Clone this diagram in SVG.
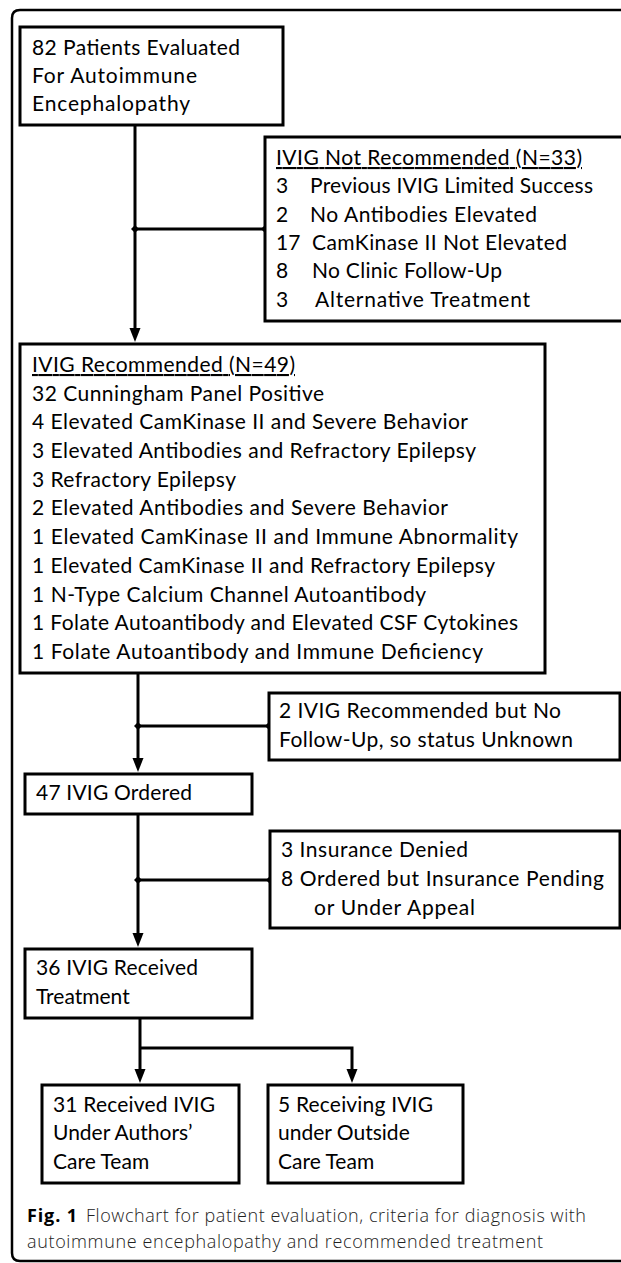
<svg xmlns="http://www.w3.org/2000/svg" width="621" height="1263" viewBox="0 0 621 1263">
<defs>
<style>
.box{fill:#fff;stroke:#000;stroke-width:3}
.t{font-family:Lato,"Liberation Sans",sans-serif;font-size:21px;fill:#000}
.u{text-decoration:underline}
.ln{fill:none;stroke:#000;stroke-width:3}
.cap{font-family:"Open Sans","Liberation Sans",sans-serif;font-size:18px;fill:#222;font-weight:300}
.capb{font-family:"Open Sans","Liberation Sans",sans-serif;font-size:18px;fill:#000;font-weight:700}
</style>
<marker id="arr" markerUnits="userSpaceOnUse" markerWidth="14" markerHeight="12" refX="6" refY="5.5" orient="auto">
<path d="M0,0 L14,5.5 L0,11 z" fill="#000"/>
</marker>
<marker id="dot" markerUnits="userSpaceOnUse" markerWidth="10" markerHeight="10" refX="5" refY="5" orient="auto">
<path d="M5,1 L9,5 L5,9 L1,5 z" fill="#000"/>
</marker>
</defs>
<rect width="621" height="1263" fill="#fff"/>
<path d="M640,10 H20 Q12,10 12,18 V1253 Q12,1261 20,1261 H640" fill="none" stroke="#000" stroke-width="2.5"/>

<g id="connectors">
<line class="ln" x1="135" y1="125" x2="135" y2="334" marker-end="url(#arr)"/>
<line class="ln" x1="135" y1="229" x2="265" y2="229" marker-start="url(#dot)" marker-end="url(#dot)"/>
<line class="ln" x1="138" y1="673" x2="138" y2="764" marker-end="url(#arr)"/>
<line class="ln" x1="138" y1="726" x2="269" y2="726" marker-start="url(#dot)" marker-end="url(#dot)"/>
<line class="ln" x1="138" y1="814" x2="138" y2="939" marker-end="url(#arr)"/>
<line class="ln" x1="138" y1="880" x2="270" y2="880" marker-start="url(#dot)" marker-end="url(#dot)"/>
<line class="ln" x1="140" y1="1018" x2="140" y2="1075" marker-end="url(#arr)"/>
<polyline class="ln" points="140,1048 352,1048 352,1075" marker-end="url(#arr)"/>
</g>

<g id="node-evaluated">
<rect class="box" x="20" y="27" width="263" height="98"/>
<text class="t" x="32" y="55" textLength="208">82 Patients Evaluated</text>
<text class="t" x="32" y="83" textLength="165">For Autoimmune</text>
<text class="t" x="32" y="111" textLength="158">Encephalopathy</text>
</g>

<g id="node-not-recommended">
<rect class="box" x="265" y="137" width="360" height="184"/>
<text class="t u" x="276" y="165" textLength="306">IVIG Not Recommended (N=33)</text>
<text class="t" x="276" y="193">3</text><text class="t" x="310" y="193" textLength="283">Previous IVIG Limited Success</text>
<text class="t" x="276" y="222">2</text><text class="t" x="310" y="222" textLength="227">No Antibodies Elevated</text>
<text class="t" x="276" y="250">17</text><text class="t" x="312" y="250" textLength="255">CamKinase II Not Elevated</text>
<text class="t" x="276" y="278">8</text><text class="t" x="312" y="278" textLength="190">No Clinic Follow-Up</text>
<text class="t" x="276" y="307">3</text><text class="t" x="315" y="307" textLength="215">Alternative Treatment</text>
</g>

<g id="node-recommended">
<rect class="box" x="20" y="344" width="525" height="329"/>
<text class="t u" x="32" y="372" textLength="263">IVIG Recommended (N=49)</text>
<text class="t" x="32" y="401" textLength="292">32 Cunningham Panel Positive</text>
<text class="t" x="32" y="429" textLength="436">4 Elevated CamKinase II and Severe Behavior</text>
<text class="t" x="32" y="458" textLength="444">3 Elevated Antibodies and Refractory Epilepsy</text>
<text class="t" x="32" y="487" textLength="204">3 Refractory Epilepsy</text>
<text class="t" x="32" y="515" textLength="416">2 Elevated Antibodies and Severe Behavior</text>
<text class="t" x="32" y="544" textLength="486">1 Elevated CamKinase II and Immune Abnormality</text>
<text class="t" x="32" y="573" textLength="463">1 Elevated CamKinase II and Refractory Epilepsy</text>
<text class="t" x="32" y="602" textLength="394">1 N-Type Calcium Channel Autoantibody</text>
<text class="t" x="32" y="630" textLength="486">1 Folate Autoantibody and Elevated CSF Cytokines</text>
<text class="t" x="32" y="659" textLength="451">1 Folate Autoantibody and Immune Deficiency</text>
</g>

<g id="node-no-followup">
<rect class="box" x="269" y="693" width="351" height="67"/>
<text class="t" x="279" y="718" textLength="282">2 IVIG Recommended but No</text>
<text class="t" x="279" y="747" textLength="294">Follow-Up, so status Unknown</text>
</g>

<g id="node-ordered">
<rect class="box" x="25" y="774" width="227" height="40"/>
<text class="t" x="36" y="800" textLength="156">47 IVIG Ordered</text>
</g>

<g id="node-insurance">
<rect class="box" x="270" y="831" width="350" height="97"/>
<text class="t" x="281" y="857" textLength="187">3 Insurance Denied</text>
<text class="t" x="281" y="886" textLength="323">8 Ordered but Insurance Pending</text>
<text class="t" x="314" y="915" textLength="161">or Under Appeal</text>
</g>

<g id="node-received">
<rect class="box" x="25" y="949" width="227" height="69"/>
<text class="t" x="36" y="975" textLength="162">36 IVIG Received</text>
<text class="t" x="36" y="1004">Treatment</text>
</g>

<g id="node-authors">
<rect class="box" x="42" y="1085" width="197" height="98"/>
<text class="t" x="53" y="1112" textLength="162">31 Received IVIG</text>
<text class="t" x="53" y="1140">Under Authors’</text>
<text class="t" x="53" y="1169">Care Team</text>
</g>

<g id="node-outside">
<rect class="box" x="268" y="1085" width="195" height="98"/>
<text class="t" x="278" y="1112" textLength="155">5 Receiving IVIG</text>
<text class="t" x="278" y="1140">under Outside</text>
<text class="t" x="278" y="1169">Care Team</text>
</g>

<g id="caption">
<text class="capb" x="27" y="1222" textLength="50">Fig. 1</text>
<text class="cap" x="86" y="1222" textLength="500">Flowchart for patient evaluation, criteria for diagnosis with</text>
<text class="cap" x="27" y="1248" textLength="516">autoimmune encephalopathy and recommended treatment</text>
</g>
</svg>
